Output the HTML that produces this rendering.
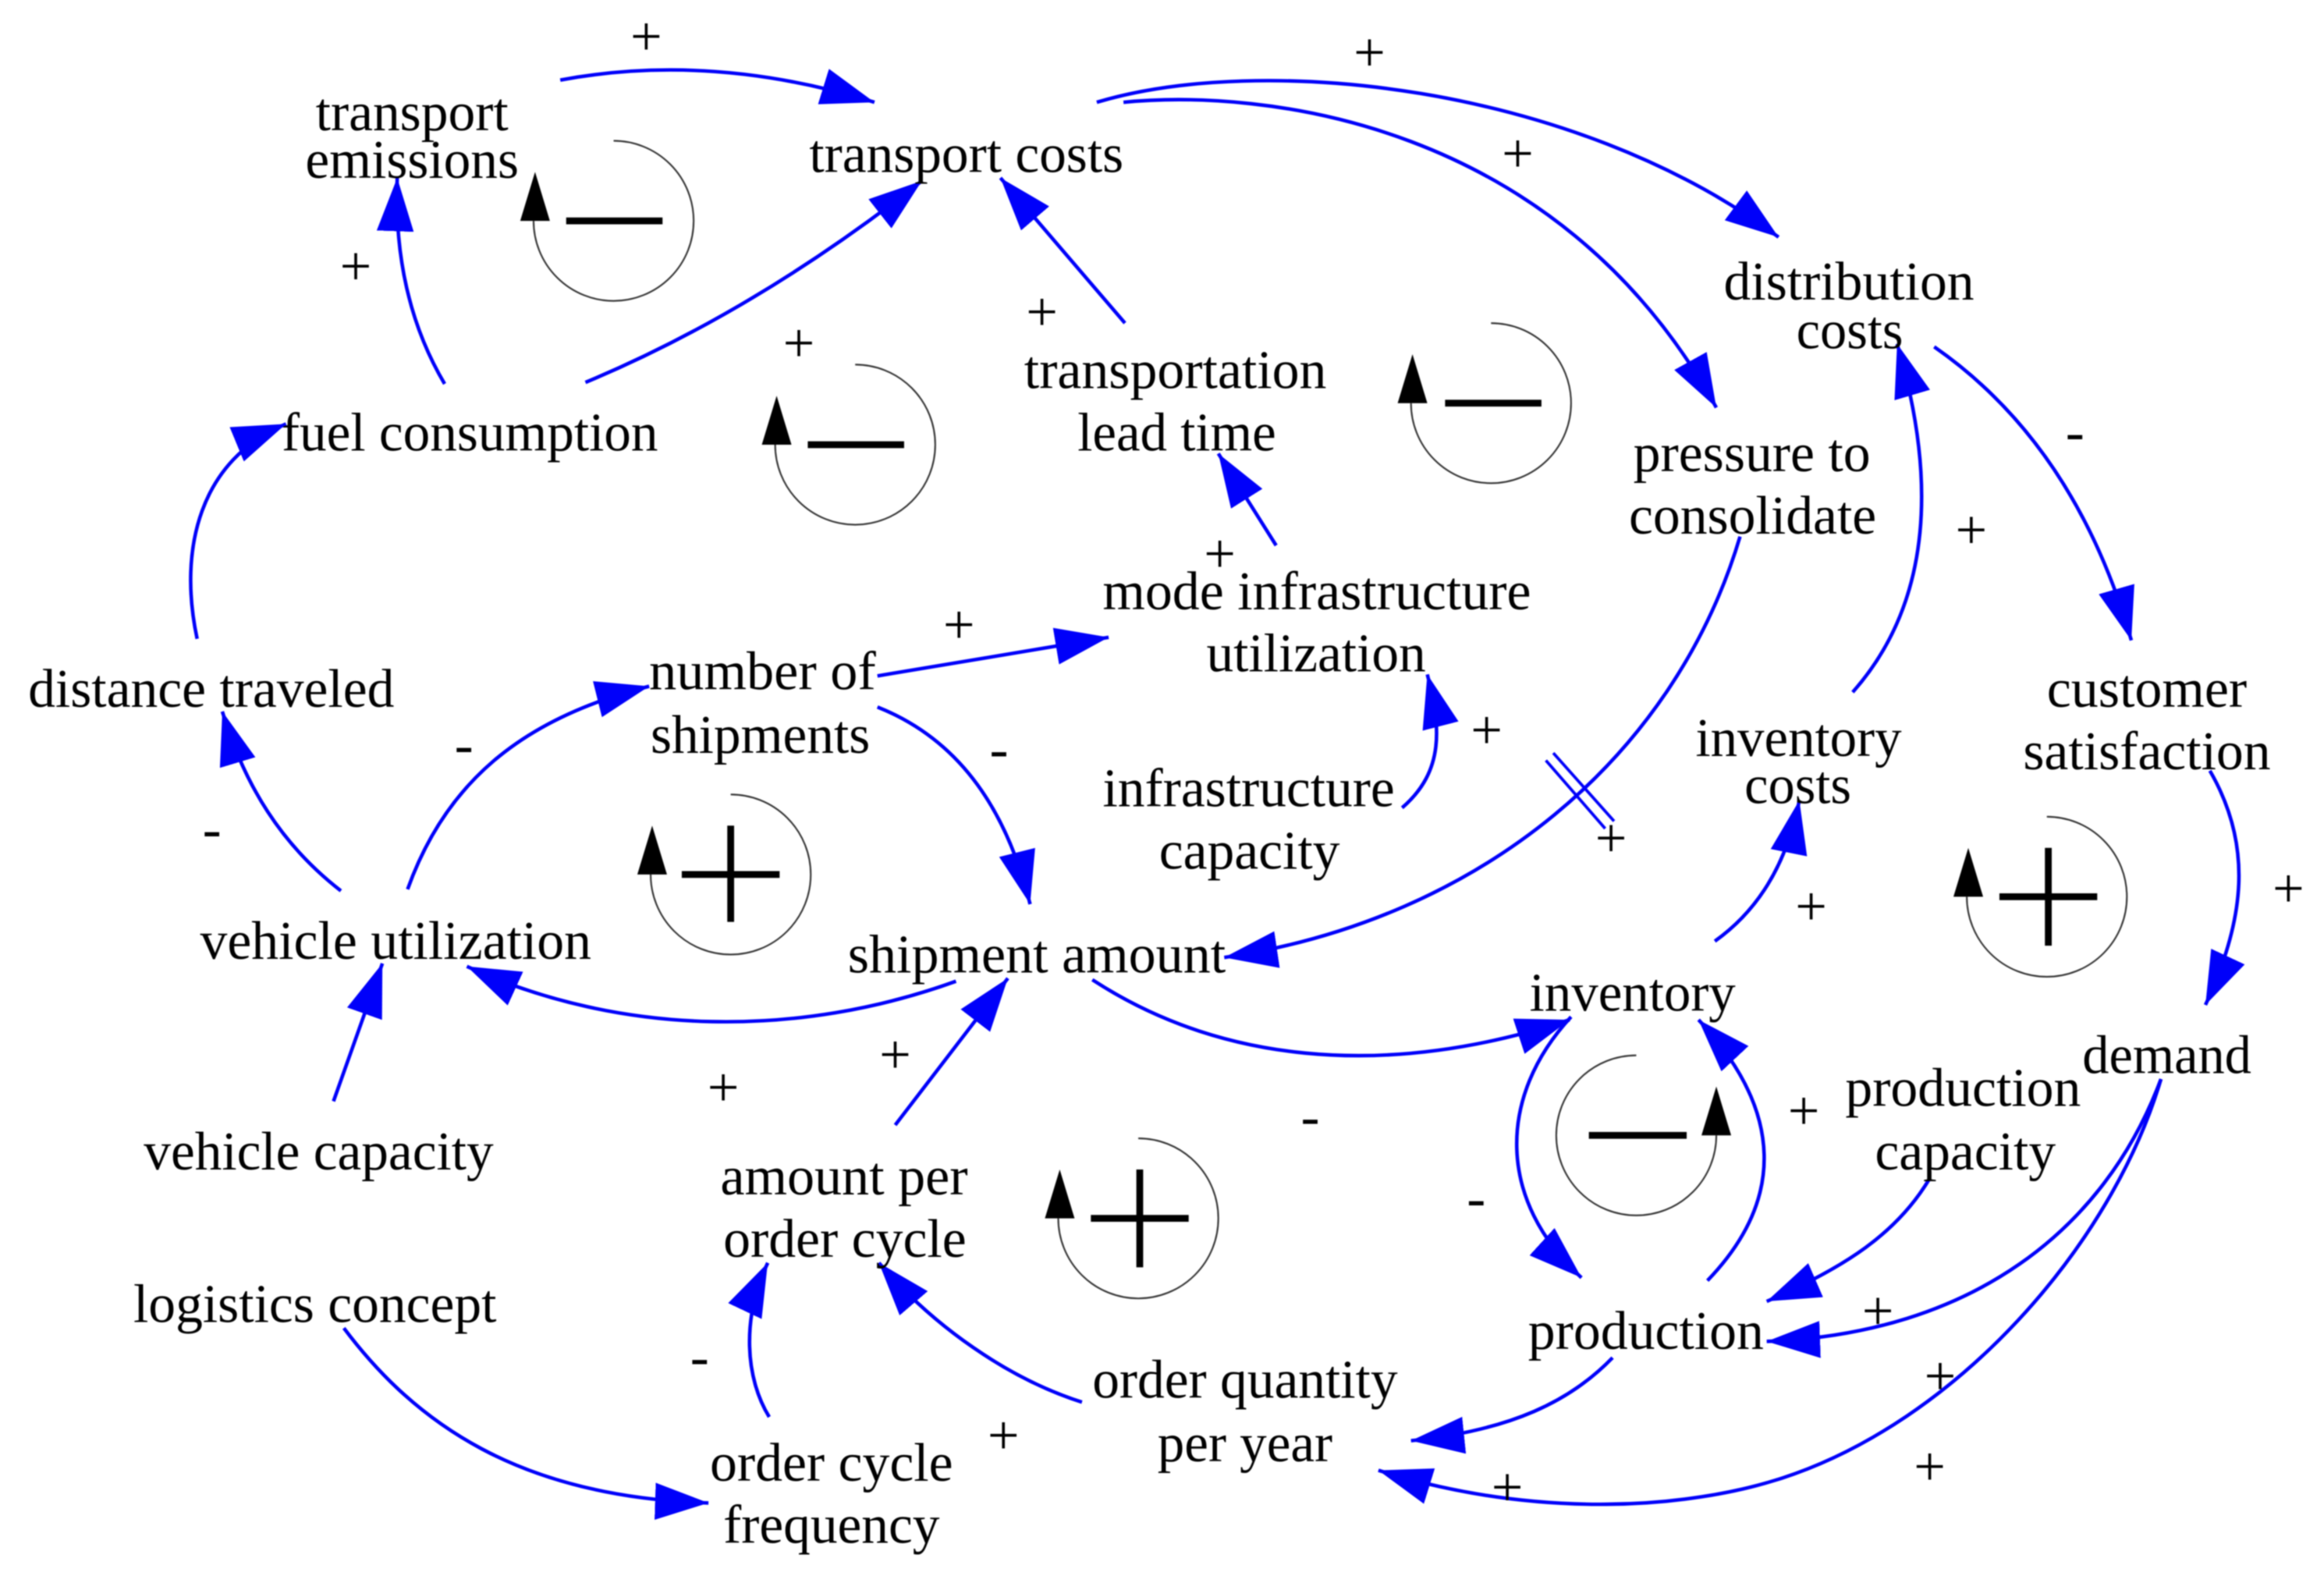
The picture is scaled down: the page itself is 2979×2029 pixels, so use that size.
<!DOCTYPE html>
<html><head><meta charset="utf-8"><style>
html,body{margin:0;padding:0;background:#fff}
svg{display:block;filter:blur(0.7px)}
text{font-family:"Liberation Serif",serif;fill:#000}
.t{font-size:37px}
.s{font-size:38px;text-anchor:middle}
.c{fill:none;stroke:#0000fa;stroke-width:2.4;marker-end:url(#a)}
.l{fill:none;stroke:#333;stroke-width:1.1}
.k{stroke:#000;stroke-width:4.6;fill:none}
</style></head><body>
<svg xmlns="http://www.w3.org/2000/svg" width="2979" height="2029" viewBox="0 0 1568 1068" preserveAspectRatio="none">
<defs><marker id="a" markerUnits="userSpaceOnUse" viewBox="0 0 36 25" markerWidth="36" markerHeight="25" refX="36" refY="12.5" orient="auto"><path d="M0 0L36 12.5L0 25Z" fill="#0000fa"/></marker></defs>
<rect width="1568" height="1068" fill="#fff"/>

<path class="c" d="M378,54 Q480,35 590,69"/>
<path class="c" d="M300,259 Q265,200 268,120"/>
<path class="c" d="M395,258 Q510,210 622,122"/>
<path class="c" d="M759,218 L675,120"/>
<path class="c" d="M740,69 C850,36 1060,56 1200,160"/>
<path class="c" d="M758,69 C850,60 1050,80 1158,275"/>
<path class="c" d="M1305,234 Q1400,300 1438,432"/>
<path class="c" d="M1250,467 C1305,405 1306,320 1280,232"/>
<path class="c" d="M1491,520 C1520,570 1515,620 1488,678"/>
<path class="c" d="M1174,362 C1130,510 1000,620 826,646"/>
<path class="c" d="M861,368 L822,306"/>
<path class="c" d="M592,456 L748,430"/>
<path class="c" d="M592,477 C650,500 680,550 695,610"/>
<path class="c" d="M946,545 C975,520 972,490 963,455"/>
<path class="c" d="M133,431 C120,370 135,310 193,286"/>
<path class="c" d="M230,601 C190,570 165,530 150,480"/>
<path class="c" d="M275,600 C300,530 350,485 438,463"/>
<path class="c" d="M645,662 C540,700 420,700 315,652"/>
<path class="c" d="M225,743 L258,650"/>
<path class="c" d="M604,759 L680,660"/>
<path class="c" d="M737,661 C820,715 930,730 1059,688"/>
<path class="c" d="M1060,686 C1010,740 1010,810 1067,862"/>
<path class="c" d="M1152,864 C1204,810 1204,750 1146,688"/>
<path class="c" d="M1157,635 C1185,615 1205,585 1214,540"/>
<path class="c" d="M1302,795 C1280,832 1245,855 1192,878"/>
<path class="c" d="M1458,728 C1420,830 1330,900 1192,905"/>
<path class="c" d="M1458,728 C1425,840 1320,960 1200,998 C1140,1017 1040,1026 930,992"/>
<path class="c" d="M1088,916 C1060,945 1020,965 952,972"/>
<path class="c" d="M730,946 C680,930 630,895 593,852"/>
<path class="c" d="M519,956 C503,930 500,890 518,852"/>
<path class="c" d="M232,896 C280,960 350,1010 478,1014"/>
<path d="M1043,513L1083,559M1048,508L1089,554" stroke="#0000fa" stroke-width="2" fill="none"/>

<path class="l" d="M414,95 A54,54 0 1 1 360,149"/>
<path d="M361,116L351,149L371,149Z"/><path class="k" d="M382,149H447"/>
<path class="l" d="M577,246 A54,54 0 1 1 523,300"/>
<path d="M524,267L514,300L534,300Z"/><path class="k" d="M545,300H610"/>
<path class="l" d="M1006,218 A54,54 0 1 1 952,272"/>
<path d="M953,239L943,272L963,272Z"/><path class="k" d="M975,272H1040"/>
<path class="l" d="M493,536 A54,54 0 1 1 439,590"/>
<path d="M440,557L430,590L450,590Z"/><path class="k" d="M460,590H526M493,557V622"/>
<path class="l" d="M1381,551 A54,54 0 1 1 1327,605"/>
<path d="M1328,572L1318,605L1338,605Z"/><path class="k" d="M1349,605H1415M1382,572V638"/>
<path class="l" d="M768,768 A54,54 0 1 1 714,822"/>
<path d="M715,789L705,822L725,822Z"/><path class="k" d="M736,822H802M769,789V855"/>
<path class="l" d="M1104,712 A54,54 0 1 0 1158,766"/>
<path d="M1158,733L1148,766L1168,766Z"/><path class="k" d="M1072,766H1138"/>

<g class="t">
<text x="213" y="88" textLength="130" lengthAdjust="spacingAndGlyphs">transport</text>
<text x="206" y="120" textLength="144" lengthAdjust="spacingAndGlyphs">emissions</text>
<text x="546" y="116" textLength="212" lengthAdjust="spacingAndGlyphs">transport costs</text>
<text x="1163" y="202" textLength="169" lengthAdjust="spacingAndGlyphs">distribution</text>
<text x="1212" y="235" textLength="72" lengthAdjust="spacingAndGlyphs">costs</text>
<text x="691" y="262" textLength="204" lengthAdjust="spacingAndGlyphs">transportation</text>
<text x="727" y="304" textLength="134" lengthAdjust="spacingAndGlyphs">lead time</text>
<text x="190" y="304" textLength="254" lengthAdjust="spacingAndGlyphs">fuel consumption</text>
<text x="1102" y="318" textLength="160" lengthAdjust="spacingAndGlyphs">pressure to</text>
<text x="1099" y="360" textLength="167" lengthAdjust="spacingAndGlyphs">consolidate</text>
<text x="744" y="411" textLength="289" lengthAdjust="spacingAndGlyphs">mode infrastructure</text>
<text x="814" y="453" textLength="148" lengthAdjust="spacingAndGlyphs">utilization</text>
<text x="438" y="465" textLength="153" lengthAdjust="spacingAndGlyphs">number of</text>
<text x="439" y="508" textLength="148" lengthAdjust="spacingAndGlyphs">shipments</text>
<text x="19" y="477" textLength="247" lengthAdjust="spacingAndGlyphs">distance traveled</text>
<text x="1381" y="477" textLength="135" lengthAdjust="spacingAndGlyphs">customer</text>
<text x="1365" y="519" textLength="167" lengthAdjust="spacingAndGlyphs">satisfaction</text>
<text x="1144" y="510" textLength="139" lengthAdjust="spacingAndGlyphs">inventory</text>
<text x="1177" y="542" textLength="72" lengthAdjust="spacingAndGlyphs">costs</text>
<text x="744" y="544" textLength="197" lengthAdjust="spacingAndGlyphs">infrastructure</text>
<text x="782" y="586" textLength="122" lengthAdjust="spacingAndGlyphs">capacity</text>
<text x="135" y="647" textLength="264" lengthAdjust="spacingAndGlyphs">vehicle utilization</text>
<text x="572" y="656" textLength="255" lengthAdjust="spacingAndGlyphs">shipment amount</text>
<text x="1032" y="682" textLength="139" lengthAdjust="spacingAndGlyphs">inventory</text>
<text x="1405" y="724" textLength="114" lengthAdjust="spacingAndGlyphs">demand</text>
<text x="1245" y="746" textLength="159" lengthAdjust="spacingAndGlyphs">production</text>
<text x="1265" y="789" textLength="122" lengthAdjust="spacingAndGlyphs">capacity</text>
<text x="97" y="789" textLength="236" lengthAdjust="spacingAndGlyphs">vehicle capacity</text>
<text x="486" y="806" textLength="167" lengthAdjust="spacingAndGlyphs">amount per</text>
<text x="488" y="848" textLength="164" lengthAdjust="spacingAndGlyphs">order cycle</text>
<text x="90" y="892" textLength="245" lengthAdjust="spacingAndGlyphs">logistics concept</text>
<text x="1031" y="910" textLength="159" lengthAdjust="spacingAndGlyphs">production</text>
<text x="737" y="943" textLength="206" lengthAdjust="spacingAndGlyphs">order quantity</text>
<text x="781" y="986" textLength="118" lengthAdjust="spacingAndGlyphs">per year</text>
<text x="479" y="999" textLength="164" lengthAdjust="spacingAndGlyphs">order cycle</text>
<text x="488" y="1041" textLength="146" lengthAdjust="spacingAndGlyphs">frequency</text>
</g>

<g class="s">
<text x="436" y="37">+</text><text x="924" y="48">+</text><text x="1024" y="116">+</text>
<text x="240" y="192">+</text><text x="539" y="244">+</text><text x="703" y="223">+</text>
<text x="823" y="386">+</text><text x="647" y="434">+</text><text x="1003" y="505">+</text>
<text x="1087" y="578">+</text><text x="1330" y="370">+</text><text x="1222" y="624">+</text>
<text x="1544" y="612">+</text><text x="604" y="724">+</text><text x="488" y="746">+</text>
<text x="1217" y="762">+</text><text x="1267" y="897">+</text><text x="1309" y="941">+</text>
<text x="1302" y="1002">+</text><text x="1017" y="1016">+</text><text x="677" y="981">+</text>
<text x="1400" y="304">-</text><text x="313" y="515">-</text><text x="143" y="572">-</text>
<text x="674" y="518">-</text><text x="884" y="766">-</text><text x="996" y="821">-</text>
<text x="472" y="928">-</text>
</g>
</svg>
</body></html>
